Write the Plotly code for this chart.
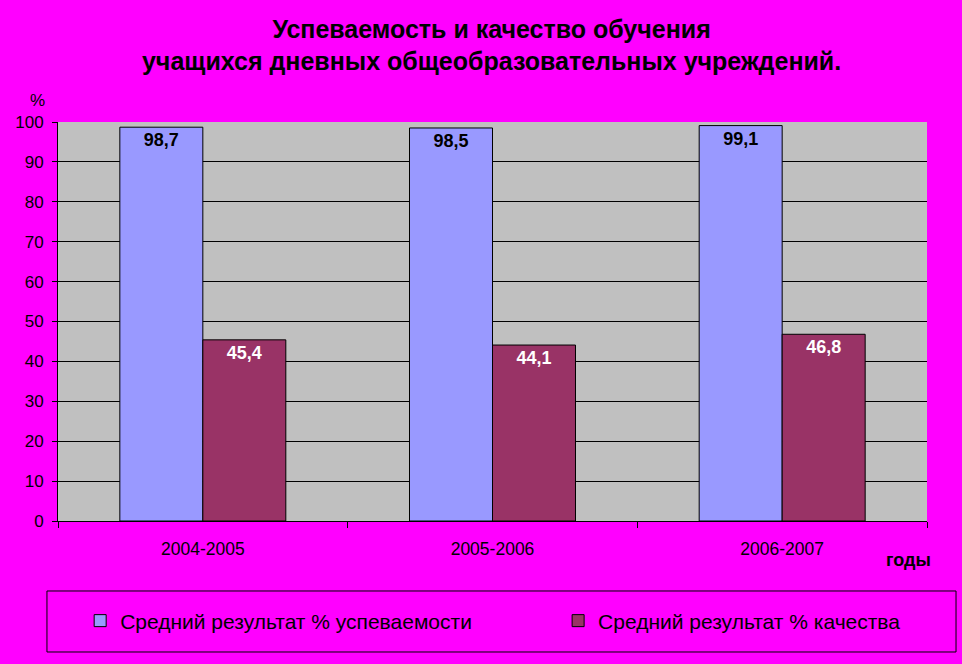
import plotly.graph_objects as go

years = ["2004-2005", "2005-2006", "2006-2007"]
uspev = [98.7, 98.5, 99.1]
kachestvo = [45.4, 44.1, 46.8]
series_names = ["Средний результат % успеваемости", "Средний результат % качества"]
y_ticks = [0, 10, 20, 30, 40, 50, 60, 70, 80, 90, 100]

def fmt(v):
    return f"{v:.1f}".replace(".", ",")

FONT = "Liberation Sans, Arial, sans-serif"

fig = go.Figure()
fig.add_trace(go.Bar(
    x=years, y=uspev, name=series_names[0], legend="legend",
    marker=dict(color="#9999FF", line=dict(color="black", width=1)),
    text=[fmt(v) for v in uspev], textposition="inside", insidetextanchor="end",
    textangle=0, constraintext="none",
    textfont=dict(family=FONT, size=18, color="black", weight="bold"),
))
fig.add_trace(go.Bar(
    x=years, y=kachestvo, name=series_names[1], legend="legend2",
    marker=dict(color="#993366", line=dict(color="black", width=1)),
    text=[fmt(v) for v in kachestvo], textposition="inside", insidetextanchor="end",
    textangle=0, constraintext="none",
    textfont=dict(family=FONT, size=18, color="white", weight="bold"),
))

leg_common = dict(
    orientation="h", yanchor="middle", xanchor="left",
    font=dict(family=FONT, size=21, color="black"),
    bgcolor="rgba(0,0,0,0)", borderwidth=0,
)

fig.update_layout(
    width=962, height=664,
    margin=dict(l=58, r=35, t=122, b=143),
    paper_bgcolor="#FF00FF", plot_bgcolor="#C0C0C0",
    barmode="group", bargap=0.427, bargroupgap=0,
    font=dict(family=FONT, color="black"),
    title=dict(
        text="Успеваемость и качество обучения<br>учащихся дневных общеобразовательных учреждений.",
        x=0.511, xanchor="center", y=0.943, yanchor="top",
        font=dict(family=FONT, size=25, color="black", weight="bold"),
    ),
    showlegend=True,
    legend=dict(x=0.0255, y=-0.2506, **leg_common),
    legend2=dict(x=0.5755, y=-0.2506, **leg_common),
    xaxis=dict(
        showgrid=False, showline=True, linecolor="black", linewidth=1,
        ticks="outside", tickson="boundaries", ticklen=6, tickcolor="black",
        ticklabelstandoff=12,
        tickfont=dict(family=FONT, size=17.5, color="black"),
    ),
    yaxis=dict(
        range=[0, 100], tickvals=y_ticks, showgrid=True, gridcolor="black", gridwidth=1,
        showline=True, linecolor="black", linewidth=1, zeroline=False,
        ticks="outside", ticklen=5, tickcolor="black", ticklabelstandoff=5,
        tickfont=dict(family=FONT, size=17, color="black"),
    ),
    shapes=[dict(
        type="rect", xref="paper", yref="paper",
        x0=-0.0127, x1=1.0334, y0=-0.3283, y1=-0.1754,
        line=dict(color="black", width=1), fillcolor="rgba(0,0,0,0)",
    )],
    annotations=[
        dict(text="%", xref="paper", yref="paper", x=-0.024, y=1.055, xanchor="center", yanchor="middle",
             showarrow=False, font=dict(family=FONT, size=17, color="black")),
        dict(text="<b>годы</b>", xref="paper", yref="paper", x=1.0069, y=-0.097, xanchor="right", yanchor="middle",
             showarrow=False, font=dict(family=FONT, size=18, color="black")),
    ],
)

fig.write_html("out.html", config={"displayModeBar": False},
               post_script="document.body.style.margin='0';")
